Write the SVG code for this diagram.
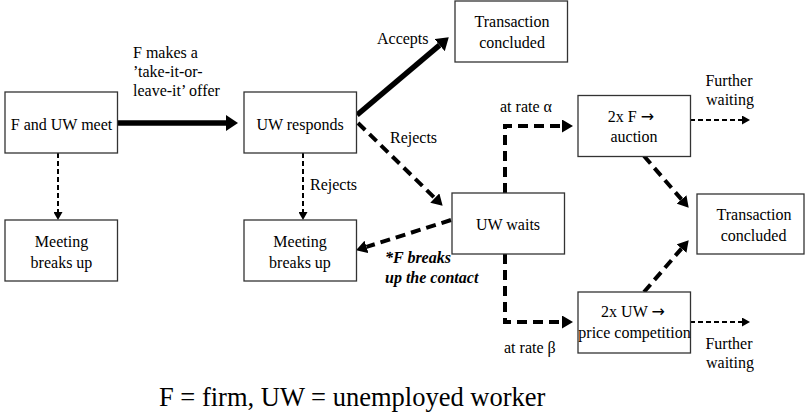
<svg xmlns="http://www.w3.org/2000/svg" width="806" height="416" viewBox="0 0 806 416" font-family="Liberation Serif, serif" font-size="16">
<defs>
<rect id="box" x="0" y="0" width="112.5" height="61" fill="#fff" stroke="#333" stroke-width="1.3"/>
<marker id="hBig" markerUnits="userSpaceOnUse" markerWidth="12" markerHeight="16" refX="0" refY="8" orient="auto"><path d="M0,0 L12,8 L0,16 z" fill="#000" stroke="none"/></marker>
<marker id="hMid" markerUnits="userSpaceOnUse" markerWidth="11" markerHeight="13" refX="0" refY="6.5" orient="auto"><path d="M0,0 L11,6.5 L0,13 z" fill="#000" stroke="none"/></marker>
<marker id="hSm" markerUnits="userSpaceOnUse" markerWidth="8" markerHeight="9" refX="0" refY="4.5" orient="auto"><path d="M0,0 L8,4.5 L0,9 z" fill="#000" stroke="none"/></marker>
</defs>
<g id="connectors">
<g fill="none" stroke="#000" stroke-width="5.5" marker-end="url(#hBig)">
<path d="M118,123 H226"/>
<path d="M357,115 L439.6,45.1"/>
</g>
<g fill="none" stroke="#000" stroke-width="4" stroke-dasharray="10 6" marker-end="url(#hMid)">
<path d="M358,123 L434.8,198"/>
<path d="M451,220 L366.5,246.9"/>
<path d="M505,193 V126 H562"/>
<path d="M505,254 V322 H562"/>
<path d="M644,156 L681.5,199.4"/>
<path d="M644,292 L681.5,248.6"/>
</g>
<g fill="none" stroke="#000" stroke-width="2" stroke-dasharray="5 3" marker-end="url(#hSm)">
<path d="M58,153 V212"/>
<path d="M303,153 V212"/>
<path d="M690,120 H742"/>
<path d="M690,322 H742"/>
</g>
<g fill="#000">
<text x="133" y="58">F makes a</text>
<text x="133" y="77">’take-it-or-</text>
<text x="133" y="96">leave-it’ offer</text>
<text x="377" y="44">Accepts</text>
<text x="390" y="143">Rejects</text>
<text x="310" y="190">Rejects</text>
<text x="385" y="263" font-weight="bold" font-style="italic">*F breaks</text>
<text x="385" y="283" font-weight="bold" font-style="italic">up the contact</text>
<text x="500" y="112">at rate α</text>
<text x="504" y="353">at rate β</text>
<text x="729" y="86" text-anchor="middle">Further</text>
<text x="730" y="105" text-anchor="middle">waiting</text>
<text x="729" y="349" text-anchor="middle">Further</text>
<text x="730" y="368" text-anchor="middle">waiting</text>
</g>
</g>
<g id="meet">
<use href="#box" x="5" y="92"/>
<text x="61.5" y="130" text-anchor="middle">F and UW meet</text>
</g>
<g id="responds">
<use href="#box" x="244" y="92"/>
<text x="300" y="130" text-anchor="middle">UW responds</text>
</g>
<g id="concluded1">
<use href="#box" x="455" y="1"/>
<text x="512" y="27" text-anchor="middle">Transaction</text>
<text x="512" y="48" text-anchor="middle">concluded</text>
</g>
<g id="breakup1">
<use href="#box" x="5" y="220"/>
<text x="61.5" y="247" text-anchor="middle">Meeting</text>
<text x="61.5" y="268" text-anchor="middle">breaks up</text>
</g>
<g id="breakup2">
<use href="#box" x="244" y="220"/>
<text x="300" y="247" text-anchor="middle">Meeting</text>
<text x="300" y="268" text-anchor="middle">breaks up</text>
</g>
<g id="waits">
<use href="#box" x="452" y="193"/>
<text x="508" y="230" text-anchor="middle">UW waits</text>
</g>
<g id="auction">
<use href="#box" x="578" y="95.5"/>
<text x="631" y="122" text-anchor="middle">2x F <tspan font-family="DejaVu Sans, sans-serif">→</tspan></text>
<text x="634" y="142" text-anchor="middle">auction</text>
</g>
<g id="pricecomp">
<use href="#box" x="578" y="292"/>
<text x="633" y="317" text-anchor="middle">2x UW <tspan font-family="DejaVu Sans, sans-serif">→</tspan></text>
<text x="634.5" y="338" text-anchor="middle">price competition</text>
</g>
<g id="concluded2">
<rect x="697" y="194" width="107" height="60" fill="#fff" stroke="#333" stroke-width="1.3"/>
<text x="754" y="220" text-anchor="middle">Transaction</text>
<text x="753.5" y="241" text-anchor="middle">concluded</text>
</g>
<g id="caption">
<text x="159" y="406" font-size="26.5">F = firm, UW = unemployed worker</text>
</g>
</svg>
